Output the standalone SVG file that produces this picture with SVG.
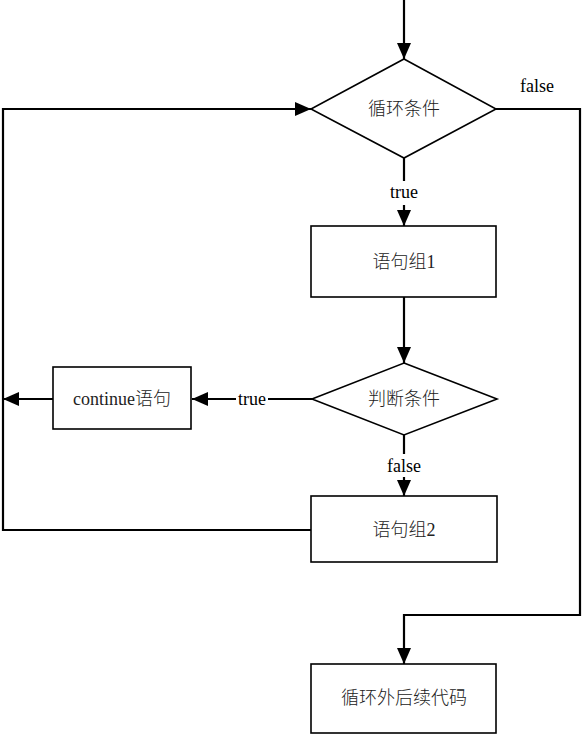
<svg xmlns="http://www.w3.org/2000/svg" width="582" height="734" viewBox="0 0 582 734">
<style>
.s{fill:#fff;stroke:#000;stroke-width:1.6}
.c{fill:none;stroke:#000;stroke-width:2.2}
.t{font-family:"Liberation Serif","Noto Sans CJK SC",serif;font-size:18px;font-weight:300;fill:#222;text-anchor:middle;dominant-baseline:central}
.lb{font-family:"Liberation Serif",serif;font-size:18px;fill:#000;text-anchor:middle;dominant-baseline:central}
</style>
<defs>
<marker id="a" markerWidth="16" markerHeight="14" refX="16" refY="7" orient="auto" markerUnits="userSpaceOnUse">
<path d="M0,0 L16,7 L0,14 Z" fill="#000"/>
</marker>
</defs>
<g id="connectors">
<path class="c" d="M404,0 V59" marker-end="url(#a)"/>
<path class="c" d="M404,158 V181"/>
<path class="c" d="M404,205 V226" marker-end="url(#a)"/>
<path class="c" d="M404,297 V363" marker-end="url(#a)"/>
<path class="c" d="M404,435 V454"/>
<path class="c" d="M404,477 V496" marker-end="url(#a)"/>
<path class="c" d="M496,109 H580 V615 H404 V664" marker-end="url(#a)"/>
<path class="c" d="M311,530 H3 V109 H311" marker-end="url(#a)"/>
<path class="c" d="M312,399 H268"/>
<path class="c" d="M236,399 H192" marker-end="url(#a)"/>
<path class="c" d="M53,399 H3" marker-end="url(#a)"/>
<text class="lb" x="537" y="86">false</text>
<text class="lb" x="404" y="192">true</text>
<text class="lb" x="404" y="466">false</text>
<text class="lb" x="252" y="399">true</text>
</g>
<g id="cond1">
<polygon class="s" points="404,59 496,109 404,158 311,109"/>
<text class="t" x="404" y="109">循环条件</text>
</g>
<g id="block1">
<rect class="s" x="311" y="226" width="185" height="71"/>
<text class="t" x="404" y="262">语句组1</text>
</g>
<g id="cond2">
<polygon class="s" points="404,363 497,399 404,435 312,399"/>
<text class="t" x="404" y="399">判断条件</text>
</g>
<g id="continue">
<rect class="s" x="53" y="367" width="138" height="62"/>
<text class="t" x="122" y="399">continue语句</text>
</g>
<g id="block2">
<rect class="s" x="311" y="496" width="186" height="66"/>
<text class="t" x="404" y="530">语句组2</text>
</g>
<g id="after">
<rect class="s" x="311" y="664" width="185" height="69"/>
<text class="t" x="404" y="698">循环外后续代码</text>
</g>
</svg>
